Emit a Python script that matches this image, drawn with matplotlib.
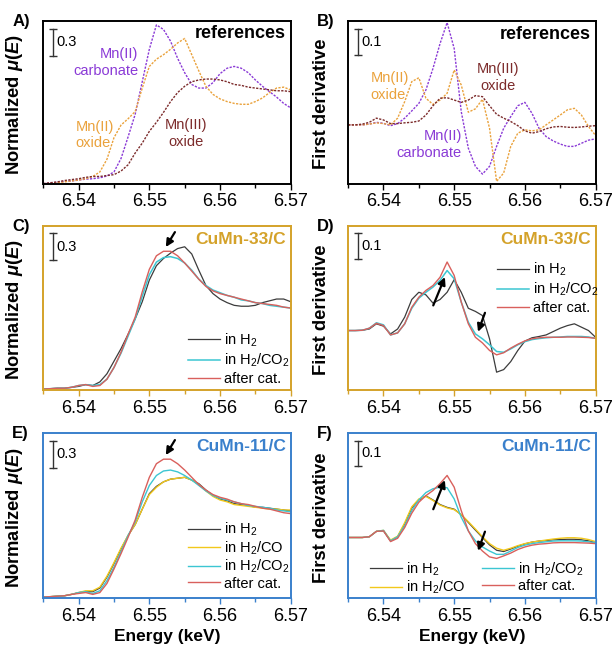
import matplotlib.pyplot as plt
import numpy as np
from matplotlib.ticker import MultipleLocator
from matplotlib.transforms import blended_transform_factory

plt.rcParams['font.family'] = ['Liberation Sans', 'DejaVu Sans']
plt.rcParams['mathtext.fontset'] = 'custom'
plt.rcParams['mathtext.rm'] = 'Liberation Sans'
plt.rcParams['mathtext.it'] = 'Liberation Sans:italic'
plt.rcParams['mathtext.bf'] = 'Liberation Sans:bold'
plt.rcParams['mathtext.bfit'] = 'Liberation Sans:bold:italic'

# energy grid in keV (1 eV steps, 6.535 - 6.570)
energy = np.round(np.arange(6535, 6571) / 1000, 3)

# A) normalized XANES of the references
ref_carbonate = [0.00, 0.01, 0.015, 0.025, 0.03, 0.04, 0.05, 0.055, 0.065, 0.085, 0.13, 0.28, 0.52, 0.77, 1.13, 1.49,
                 1.76, 1.71, 1.58, 1.39, 1.23, 1.10, 1.06, 1.06, 1.12, 1.22, 1.28, 1.30, 1.28, 1.23, 1.15, 1.08,
                 1.02, 0.96, 0.89, 0.84]
ref_mn2_oxide = [0.00, 0.005, 0.01, 0.02, 0.03, 0.04, 0.055, 0.08, 0.13, 0.27, 0.51, 0.65, 0.72, 0.80, 1.06, 1.30,
                 1.38, 1.43, 1.49, 1.56, 1.61, 1.43, 1.25, 1.08, 0.99, 0.94, 0.91, 0.89, 0.88, 0.88, 0.91, 0.95,
                 1.01, 1.06, 1.07, 1.04]
ref_mn3_oxide = [0.00, 0.01, 0.02, 0.035, 0.045, 0.055, 0.07, 0.08, 0.08, 0.09, 0.10, 0.14, 0.21, 0.34, 0.45, 0.58,
                 0.68, 0.79, 0.91, 1.01, 1.08, 1.13, 1.15, 1.16, 1.16, 1.15, 1.13, 1.10, 1.09, 1.07, 1.06, 1.05,
                 1.04, 1.03, 1.03, 1.02]

# B) first derivative of the references
der_carbonate = [0, 0, 0, 0.003, 0.010, 0.006, -0.003, 0.005, 0.026, 0.054, 0.083, 0.135, 0.218, 0.314, 0.395, 0.295,
                 0.051, -0.090, -0.160, -0.190, -0.160, -0.083, -0.013, 0.032, 0.074, 0.087, 0.045, -0.013, -0.045,
                 -0.062, -0.074, -0.083, -0.083, -0.071, -0.059, -0.054]
der_mn2_oxide = [0, 0, 0, 0.003, 0.008, 0.005, 0, 0.026, 0.090, 0.167, 0.182, 0.103, 0.079, 0.096, 0.122, 0.212,
                 0.154, 0.049, 0.062, 0.099, -0.013, -0.218, -0.186, -0.083, -0.032, -0.019, -0.023, -0.019, 0,
                 0.019, 0.038, 0.058, 0.064, 0.038, -0.006, -0.041]
der_mn3_oxide = [0, 0, 0.003, 0.010, 0.026, 0.019, 0.005, 0.005, 0.008, 0.010, 0.015, 0.038, 0.074, 0.103, 0.105,
                 0.096, 0.087, 0.096, 0.113, 0.109, 0.074, 0.041, 0.026, 0.013, -0.003, -0.023, -0.032, -0.026,
                 -0.015, -0.008, -0.006, -0.009, -0.010, -0.008, -0.005, -0.003]

# C) CuMn-33/C normalized
c33_h2 = [0.01, 0.015, 0.02, 0.02, 0.03, 0.04, 0.06, 0.05, 0.09, 0.18, 0.32, 0.46, 0.62, 0.79, 0.98, 1.22, 1.38, 1.46,
          1.52, 1.57, 1.59, 1.51, 1.33, 1.16, 1.07, 1.01, 0.97, 0.94, 0.93, 0.93, 0.94, 0.97, 0.99, 1.01, 1.01, 0.98]
c33_h2co2 = [0.01, 0.015, 0.02, 0.02, 0.03, 0.05, 0.06, 0.05, 0.06, 0.12, 0.25, 0.41, 0.60, 0.79, 1.04, 1.28, 1.42,
             1.47, 1.48, 1.46, 1.41, 1.33, 1.23, 1.16, 1.11, 1.08, 1.05, 1.03, 1.00, 0.99, 0.97, 0.96, 0.94, 0.93,
             0.92, 0.91]
c33_after = [0.01, 0.015, 0.02, 0.02, 0.03, 0.05, 0.06, 0.04, 0.05, 0.12, 0.25, 0.42, 0.62, 0.81, 1.09, 1.34, 1.49,
             1.54, 1.54, 1.49, 1.41, 1.32, 1.23, 1.15, 1.10, 1.07, 1.05, 1.03, 1.01, 0.99, 0.97, 0.96, 0.95, 0.94,
             0.92, 0.91]

# D) CuMn-33/C first derivative
d33_h2 = [0, 0, 0.001, 0.006, 0.026, 0.017, -0.013, 0.006, 0.052, 0.120, 0.148, 0.138, 0.106, 0.120, 0.148, 0.197,
          0.148, 0.086, 0.074, 0.058, -0.032, -0.161, -0.151, -0.120, -0.077, -0.041, -0.028, -0.023, -0.017,
          -0.004, 0.009, 0.019, 0.026, 0.013, 0, -0.026]
d33_h2co2 = [0, 0, 0.001, 0.009, 0.030, 0.022, -0.017, -0.009, 0.026, 0.086, 0.125, 0.148, 0.168, 0.194, 0.232,
             0.200, 0.110, 0.032, -0.013, -0.032, -0.055, -0.081, -0.084, -0.071, -0.055, -0.043, -0.035, -0.031,
             -0.028, -0.026, -0.025, -0.023, -0.023, -0.023, -0.025, -0.030]
d33_after = [0, 0, 0.001, 0.009, 0.028, 0.019, -0.017, -0.009, 0.026, 0.090, 0.129, 0.155, 0.174, 0.206, 0.265,
             0.213, 0.110, 0.026, -0.026, -0.048, -0.077, -0.094, -0.086, -0.068, -0.053, -0.040, -0.032, -0.028,
             -0.026, -0.026, -0.026, -0.025, -0.025, -0.026, -0.027, -0.030]

# E) CuMn-11/C normalized
c11_h2 = [0.01, 0.015, 0.02, 0.025, 0.04, 0.06, 0.07, 0.07, 0.11, 0.23, 0.38, 0.54, 0.69, 0.81, 0.98, 1.15, 1.23,
          1.28, 1.31, 1.32, 1.33, 1.30, 1.26, 1.19, 1.13, 1.09, 1.07, 1.04, 1.03, 1.02, 1.00, 1.00, 0.99, 0.98,
          0.97, 0.96]
c11_h2co = [0.01, 0.015, 0.02, 0.025, 0.04, 0.06, 0.08, 0.08, 0.12, 0.24, 0.39, 0.55, 0.69, 0.81, 0.98, 1.14, 1.22,
            1.28, 1.31, 1.32, 1.33, 1.30, 1.25, 1.18, 1.12, 1.08, 1.06, 1.03, 1.02, 1.01, 1.00, 0.99, 0.98, 0.98,
            0.97, 0.97]
c11_h2co2 = [0.01, 0.015, 0.02, 0.025, 0.04, 0.06, 0.07, 0.05, 0.08, 0.19, 0.34, 0.51, 0.69, 0.84, 1.06, 1.24, 1.35,
             1.40, 1.41, 1.39, 1.35, 1.30, 1.24, 1.18, 1.13, 1.10, 1.08, 1.06, 1.04, 1.02, 1.01, 1.00, 0.99, 0.97,
             0.96, 0.95]
c11_after = [0.01, 0.015, 0.02, 0.025, 0.04, 0.05, 0.06, 0.04, 0.06, 0.16, 0.32, 0.49, 0.67, 0.86, 1.11, 1.33, 1.48,
             1.53, 1.53, 1.48, 1.41, 1.33, 1.25, 1.19, 1.14, 1.11, 1.09, 1.06, 1.04, 1.03, 1.01, 0.99, 0.98, 0.96,
             0.94, 0.93]

# F) CuMn-11/C first derivative
d11_h2 = [0, 0, 0, 0.003, 0.024, 0.026, -0.013, 0.003, 0.053, 0.116, 0.147, 0.163, 0.147, 0.129, 0.118, 0.111,
          0.089, 0.059, 0.029, 0, -0.029, -0.050, -0.055, -0.045, -0.034, -0.025, -0.018, -0.014, -0.012, -0.009,
          -0.008, -0.007, -0.007, -0.009, -0.013, -0.020]
d11_h2co = [0, 0, 0, 0.003, 0.024, 0.028, -0.010, 0.005, 0.058, 0.120, 0.151, 0.161, 0.145, 0.127, 0.116, 0.109,
            0.090, 0.062, 0.033, 0.003, -0.024, -0.042, -0.050, -0.042, -0.032, -0.024, -0.018, -0.014, -0.010,
            -0.006, -0.003, -0.001, -0.001, -0.003, -0.008, -0.016]
d11_h2co2 = [0, 0, 0, 0.003, 0.024, 0.028, -0.013, 0.003, 0.046, 0.105, 0.147, 0.176, 0.191, 0.197, 0.195, 0.151,
             0.079, 0.026, -0.013, -0.037, -0.053, -0.066, -0.066, -0.053, -0.039, -0.030, -0.024, -0.020, -0.017,
             -0.014, -0.013, -0.013, -0.013, -0.014, -0.017, -0.020]
d11_after = [0, 0, 0, 0.003, 0.024, 0.026, -0.016, -0.003, 0.039, 0.095, 0.138, 0.164, 0.184, 0.211, 0.243, 0.197,
             0.105, 0.026, -0.024, -0.053, -0.076, -0.082, -0.072, -0.061, -0.047, -0.037, -0.030, -0.026, -0.024,
             -0.021, -0.020, -0.020, -0.020, -0.021, -0.022, -0.024]

# colours
purple = '#8a3ad6'
orange = '#eaa23c'
brown = '#7c2b2b'
c_h2 = '#3c3c3c'
c_h2co = '#f2c81c'
c_h2co2 = '#3cc6d2'
c_after = '#d9605c'
gold = '#d4a22a'
blue = '#3a80cc'

lbl_h2 = 'in H$_2$'
lbl_h2co = 'in H$_2$/CO'
lbl_h2co2 = 'in H$_2$/CO$_2$'
lbl_after = 'after cat.'

dash = (0, (1.6, 1.0))


def style_axis(ax, ylim, edge, letter, ylabel, show_xlabel):
    ax.set_xlim(6.535, 6.57)
    ax.set_ylim(*ylim)
    ax.set_yticks([])
    ax.xaxis.set_major_locator(MultipleLocator(0.01))
    ax.xaxis.set_minor_locator(MultipleLocator(0.005))
    ax.tick_params(axis='x', which='major', direction='out', length=4, width=1, labelsize=13, pad=3, color=edge)
    ax.tick_params(axis='x', which='minor', direction='out', length=3, width=1, color=edge)
    for s in ax.spines.values():
        s.set_color(edge)
        s.set_linewidth(1.4)
    ax.set_ylabel(ylabel, fontsize=13.2, fontweight='bold')
    ax.yaxis.set_label_coords(-0.075, 0.49)
    if show_xlabel:
        ax.set_xlabel('Energy (keV)', fontsize=12.5, fontweight='bold', labelpad=3)
    ax.text(-0.125, 1.0, letter, transform=ax.transAxes, fontsize=12, fontweight='bold', ha='left', va='center')


def scale_bar(ax, length, label):
    trans = blended_transform_factory(ax.transAxes, ax.transData)
    y0, y1 = ax.get_ylim()
    top = y0 + 0.955 * (y1 - y0)
    ax.plot([0.038, 0.038], [top - length, top], transform=trans, color='#333333', lw=1,
            marker='_', ms=6, mew=1, clip_on=False)
    ax.text(0.052, top - length / 2, label, transform=trans, fontsize=10.5, va='center')


def corner_title(ax, text, color):
    ax.text(0.98, 0.92, text, transform=ax.transAxes, fontsize=12.5, fontweight='bold', color=color,
            ha='right', va='center')


def arrow(ax, tail, head):
    ax.annotate('', xy=head, xytext=tail, xycoords='axes fraction', textcoords='axes fraction',
                arrowprops=dict(arrowstyle='-|>', color='black', lw=1.6, mutation_scale=11,
                                shrinkA=0, shrinkB=0))


fig = plt.figure(figsize=(6.14, 6.52), dpi=100)
xl, xr, w = 0.0705, 0.567, 0.403
rows = [(0.7183, 0.249), (0.4018, 0.2515), (0.0828, 0.2526)]
ax_a = fig.add_axes([xl, rows[0][0], w, rows[0][1]])
ax_b = fig.add_axes([xr, rows[0][0], w, rows[0][1]])
ax_c = fig.add_axes([xl, rows[1][0], w, rows[1][1]])
ax_d = fig.add_axes([xr, rows[1][0], w, rows[1][1]])
ax_e = fig.add_axes([xl, rows[2][0], w, rows[2][1]])
ax_f = fig.add_axes([xr, rows[2][0], w, rows[2][1]])

norm_label = r'Normalized $\mathbfit{\mu}$($\mathbfit{E}$)'
der_label = 'First derivative'

# A
ax_a.plot(energy, ref_carbonate, color=purple, lw=1, ls=dash)
ax_a.plot(energy, ref_mn2_oxide, color=orange, lw=1, ls=dash)
ax_a.plot(energy, ref_mn3_oxide, color=brown, lw=1, ls=dash)
style_axis(ax_a, (0, 1.8), 'black', 'A)', norm_label, False)
scale_bar(ax_a, 0.3, '0.3')
ax_a.text(0.98, 0.925, 'references', transform=ax_a.transAxes, fontsize=13, fontweight='bold',
          ha='right', va='center')
ax_a.text(0.383, 0.745, 'Mn(II)\ncarbonate', transform=ax_a.transAxes, fontsize=10.5, color=purple,
          ha='right', va='center', linespacing=1.25)
ax_a.text(0.13, 0.3, 'Mn(II)\noxide', transform=ax_a.transAxes, fontsize=10.5, color=orange,
          ha='left', va='center', linespacing=1.25)
ax_a.text(0.575, 0.31, 'Mn(III)\noxide', transform=ax_a.transAxes, fontsize=10.5, color=brown,
          ha='center', va='center', linespacing=1.25)

# B
ax_b.plot(energy, der_carbonate, color=purple, lw=1, ls=dash)
ax_b.plot(energy, der_mn2_oxide, color=orange, lw=1, ls=dash)
ax_b.plot(energy, der_mn3_oxide, color=brown, lw=1, ls=dash)
style_axis(ax_b, (-0.227, 0.40), 'black', 'B)', der_label, False)
scale_bar(ax_b, 0.1, '0.1')
ax_b.text(0.98, 0.92, 'references', transform=ax_b.transAxes, fontsize=13, fontweight='bold',
          ha='right', va='center')
ax_b.text(0.09, 0.6, 'Mn(II)\noxide', transform=ax_b.transAxes, fontsize=10.5, color=orange,
          ha='left', va='center', linespacing=1.25)
ax_b.text(0.605, 0.655, 'Mn(III)\noxide', transform=ax_b.transAxes, fontsize=10.5, color=brown,
          ha='center', va='center', linespacing=1.25)
ax_b.text(0.46, 0.24, 'Mn(II)\ncarbonate', transform=ax_b.transAxes, fontsize=10.5, color=purple,
          ha='right', va='center', linespacing=1.25)

# C
ax_c.plot(energy, c33_h2, color=c_h2, lw=0.9, label=lbl_h2)
ax_c.plot(energy, c33_h2co2, color=c_h2co2, lw=1.1, label=lbl_h2co2)
ax_c.plot(energy, c33_after, color=c_after, lw=1, label=lbl_after)
style_axis(ax_c, (0, 1.82), gold, 'C)', norm_label, False)
scale_bar(ax_c, 0.3, '0.3')
corner_title(ax_c, 'CuMn-33/C', gold)
arrow(ax_c, (0.532, 0.963), (0.495, 0.872))
ax_c.legend(loc='lower left', bbox_to_anchor=(0.585, 0.025), frameon=False, fontsize=10.5, borderpad=0,
            borderaxespad=0, handlelength=2.2, handletextpad=0.25, labelspacing=0.2)

# D
ax_d.plot(energy, d33_h2, color=c_h2, lw=0.9, label=lbl_h2)
ax_d.plot(energy, d33_h2co2, color=c_h2co2, lw=1.1, label=lbl_h2co2)
ax_d.plot(energy, d33_after, color=c_after, lw=1, label=lbl_after)
style_axis(ax_d, (-0.230, 0.404), gold, 'D)', der_label, False)
scale_bar(ax_d, 0.1, '0.1')
corner_title(ax_d, 'CuMn-33/C', gold)
arrow(ax_d, (0.344, 0.516), (0.391, 0.689))
arrow(ax_d, (0.553, 0.471), (0.525, 0.355))
ax_d.legend(loc='lower left', bbox_to_anchor=(0.602, 0.455), frameon=False, fontsize=10.5, borderpad=0,
            borderaxespad=0, handlelength=2.2, handletextpad=0.25, labelspacing=0.2)

# E
ax_e.plot(energy, c11_h2, color=c_h2, lw=0.9, label=lbl_h2)
ax_e.plot(energy, c11_h2co, color=c_h2co, lw=1, label=lbl_h2co)
ax_e.plot(energy, c11_h2co2, color=c_h2co2, lw=1, label=lbl_h2co2)
ax_e.plot(energy, c11_after, color=c_after, lw=1, label=lbl_after)
style_axis(ax_e, (0, 1.815), blue, 'E)', norm_label, True)
scale_bar(ax_e, 0.3, '0.3')
corner_title(ax_e, 'CuMn-11/C', blue)
arrow(ax_e, (0.532, 0.959), (0.495, 0.868))
ax_e.legend(loc='lower left', bbox_to_anchor=(0.585, 0.045), frameon=False, fontsize=10.5, borderpad=0,
            borderaxespad=0, handlelength=2.2, handletextpad=0.25, labelspacing=0.08)

# F
ax_f.plot(energy, d11_h2, color=c_h2, lw=0.9, label=lbl_h2)
ax_f.plot(energy, d11_h2co, color=c_h2co, lw=1, label=lbl_h2co)
ax_f.plot(energy, d11_h2co2, color=c_h2co2, lw=1, label=lbl_h2co2)
ax_f.plot(energy, d11_after, color=c_after, lw=1, label=lbl_after)
style_axis(ax_f, (-0.237, 0.408), blue, 'F)', der_label, True)
scale_bar(ax_f, 0.1, '0.1')
corner_title(ax_f, 'CuMn-11/C', blue)
arrow(ax_f, (0.344, 0.539), (0.391, 0.716))
arrow(ax_f, (0.553, 0.403), (0.525, 0.287))
ax_f.legend(loc='lower left', bbox_to_anchor=(0.088, 0.01), ncol=2, frameon=False, fontsize=10.5, borderpad=0,
            borderaxespad=0, handlelength=2.2, handletextpad=0.25, labelspacing=0.1, columnspacing=1.15)

fig.savefig('out.png', dpi=100)
